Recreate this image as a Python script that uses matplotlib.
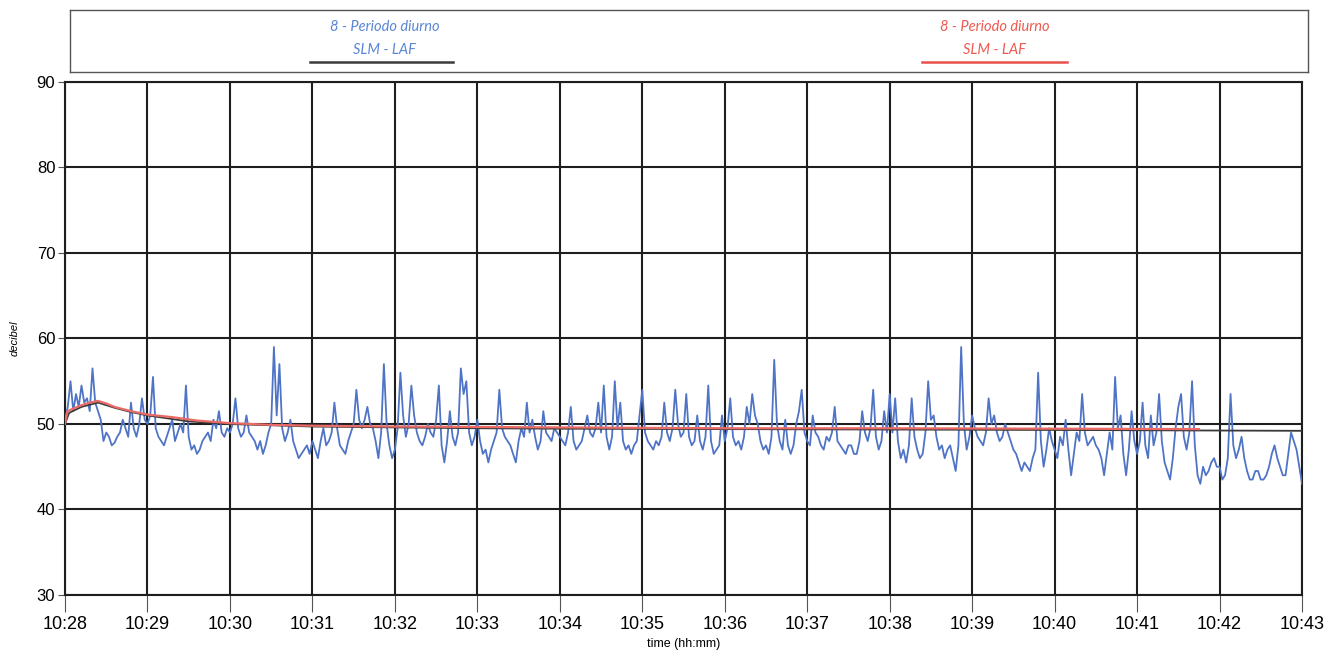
import numpy as np
import matplotlib.pyplot as plt

# blue trace (SLM - LAF), one value every 2 s, one row per minute from 10:28, last point is 10:43
laf = [
    50.5, 52.0, 55.0, 51.5, 53.5, 52.0, 54.5, 52.5, 53.0, 51.5, 56.5, 52.5, 51.5, 50.5, 48.0,
    49.0, 48.5, 47.5, 47.8, 48.5, 49.0, 50.5, 49.5, 48.5, 52.5, 49.5, 48.5, 50.0, 53.0, 50.5,
    50.0, 51.0, 55.5, 49.5, 48.5, 48.0, 47.5, 48.5, 49.5, 50.5, 48.0, 49.0, 50.0, 49.0, 54.5,
    48.5, 47.0, 47.5, 46.5, 47.0, 48.0, 48.5, 49.0, 48.0, 50.5, 49.5, 51.5, 49.0, 48.5, 49.5,
    49.0, 50.0, 53.0, 49.5, 48.5, 49.0, 51.0, 49.0, 48.5, 48.0, 47.0, 48.0, 46.5, 47.5, 49.0,
    50.0, 59.0, 51.0, 57.0, 49.5, 48.0, 49.0, 50.5, 48.0, 47.0, 46.0, 46.5, 47.0, 47.5, 46.5,
    48.0, 47.0, 46.0, 48.0, 49.5, 47.5, 48.0, 49.0, 52.5, 49.5, 47.5, 47.0, 46.5, 48.0, 49.0,
    50.0, 54.0, 50.5, 49.5, 50.5, 52.0, 50.0, 49.5, 48.0, 46.0, 49.0, 57.0, 50.0, 47.5, 46.0,
    47.0, 49.5, 56.0, 51.0, 48.5, 50.0, 54.5, 51.0, 49.0, 48.0, 47.5, 48.5, 50.0, 49.0, 48.5,
    50.5, 54.5, 47.5, 45.5, 48.0, 51.5, 48.5, 47.5, 49.0, 56.5, 53.5, 55.0, 49.0, 47.5, 48.5,
    50.5, 48.0, 46.5, 47.0, 45.5, 47.0, 48.0, 49.0, 54.0, 49.5, 48.5, 48.0, 47.5, 46.5, 45.5,
    48.0, 49.5, 48.5, 52.5, 49.0, 50.5, 48.5, 47.0, 48.0, 51.5, 49.0, 48.5, 48.0, 49.5, 49.0,
    48.5, 48.0, 47.5, 49.0, 52.0, 48.0, 47.0, 47.5, 48.0, 49.5, 51.0, 49.0, 48.5, 49.5, 52.5,
    49.0, 54.5, 48.5, 47.0, 48.5, 55.0, 49.5, 52.5, 48.0, 47.0, 47.5, 46.5, 47.5, 48.0, 51.0,
    54.0, 49.0, 48.0, 47.5, 47.0, 48.0, 47.5, 48.5, 52.5, 49.0, 48.0, 49.5, 54.0, 50.0, 48.5,
    49.0, 53.5, 48.5, 47.5, 48.0, 51.0, 48.0, 47.0, 48.5, 54.5, 48.0, 46.5, 47.0, 47.5, 51.0,
    48.0, 49.5, 53.0, 48.5, 47.5, 48.0, 47.0, 48.5, 52.0, 50.0, 53.5, 51.0, 50.0, 48.0, 47.0,
    47.5, 46.5, 48.5, 57.5, 50.0, 48.0, 47.0, 50.5, 47.5, 46.5, 47.5, 50.0, 51.5, 54.0, 49.0,
    48.0, 47.5, 51.0, 49.0, 48.5, 47.5, 47.0, 48.5, 48.0, 49.0, 52.0, 48.0, 47.5, 47.0, 46.5,
    47.5, 47.5, 46.5, 46.5, 48.0, 51.5, 49.0, 48.0, 49.5, 54.0, 48.5, 47.0, 48.0, 51.5, 49.0,
    53.5, 49.0, 53.0, 48.0, 46.0, 47.0, 45.5, 47.5, 53.0, 48.5, 47.0, 46.0, 46.5, 49.0, 55.0,
    50.5, 51.0, 48.5, 47.0, 47.5, 46.0, 47.0, 47.5, 46.0, 44.5, 47.5, 59.0, 50.0, 47.0, 48.5,
    51.0, 49.5, 48.5, 48.0, 47.5, 49.0, 53.0, 50.0, 51.0, 49.0, 48.0, 48.5, 50.0, 49.0, 48.0,
    47.0, 46.5, 45.5, 44.5, 45.5, 45.0, 44.5, 46.0, 47.0, 56.0, 48.0, 45.0, 47.0, 49.5, 48.0,
    47.0, 46.0, 48.5, 47.5, 50.5, 47.0, 44.0, 46.5, 49.0, 48.0, 53.5, 49.0, 47.5, 48.0, 48.5,
    47.5, 47.0, 46.0, 44.0, 46.5, 49.0, 47.0, 55.5, 49.5, 51.0, 46.5, 44.0, 47.0, 51.5, 48.0,
    46.5, 48.0, 52.5, 47.5, 46.0, 51.0, 47.5, 49.0, 53.5, 48.0, 45.5, 44.5, 43.5, 46.0, 49.5,
    52.0, 53.5, 48.5, 47.0, 49.0, 55.0, 47.5, 44.0, 43.0, 45.0, 44.0, 44.5, 45.5, 46.0, 45.0,
    45.0, 43.5, 44.0, 46.0, 53.5, 47.5, 46.0, 47.0, 48.5, 46.0, 44.5, 43.5, 43.5, 44.5, 44.5,
    43.5, 43.5, 44.0, 45.0, 46.5, 47.5, 46.0, 45.0, 44.0, 44.0, 46.5, 49.0, 48.0, 47.0, 45.0,
    43.0,
]
laf_t = np.arange(len(laf)) * 2 / 60.0   # minutes after 10:28

# running Leq curves (minutes after 10:28, dB)
leq_red_t = [0.0, 0.03, 0.1, 0.2, 0.3, 0.4, 0.5, 0.6, 0.8, 1.0, 1.3, 1.6, 2.0, 2.5, 3.0,
             4.0, 5.0, 6.0, 8.0, 10.0, 12.0, 13.75]
leq_red = [50.0, 51.5, 51.8, 52.2, 52.5, 52.7, 52.4, 52.0, 51.5, 51.1, 50.8, 50.4, 50.1, 49.9, 49.8,
           49.7, 49.65, 49.6, 49.5, 49.5, 49.45, 49.4]
leq_blk_t = [0.0, 0.05, 0.2, 0.4, 0.6, 0.8, 1.0, 1.5, 2.0, 3.0, 4.0, 5.0, 6.0, 8.0, 10.0,
             12.0, 15.0]
leq_blk = [50.0, 51.3, 52.0, 52.5, 51.9, 51.4, 51.0, 50.3, 50.0, 49.7, 49.6, 49.5, 49.45, 49.4, 49.35,
           49.3, 49.2]

tick_labels = ['10:%02d' % m for m in range(28, 44)]

fig = plt.figure(figsize=(13.32, 6.65), dpi=100)
ax = fig.add_axes([0.0488, 0.1053, 0.9287, 0.7714])

ax.plot(laf_t, laf, color='#4f74c6', lw=1.3, zorder=3)
ax.plot(leq_blk_t, leq_blk, color='#3a3a3a', lw=1.3, zorder=4)
ax.plot(leq_red_t, leq_red, color='#ea6a66', lw=1.6, zorder=5)

ax.set_xlim(0, 15)
ax.set_ylim(30, 90)
ax.set_xticks(range(16))
ax.set_xticklabels(tick_labels, fontsize=13, family='Liberation Sans')
ax.set_yticks(range(30, 91, 10))
ax.set_yticklabels([str(v) for v in range(30, 91, 10)], fontsize=12, family='Liberation Sans')
ax.tick_params(axis='x', length=12, width=0.8, color='#555555', pad=3)
ax.tick_params(axis='y', length=5, width=0.8, color='#555555', pad=2)
ax.grid(True, color='#1e1e1e', lw=1.5)
for s in ax.spines.values():
    s.set_color('#1e1e1e')
    s.set_linewidth(1.5)
ax.set_ylabel('decibel', fontsize=8, style='italic', family='Liberation Sans', labelpad=12)
ax.set_xlabel('time (hh:mm)', fontsize=9, family='Liberation Sans', labelpad=4)

# legend strip above the plot
lg = fig.add_axes([0.0525, 0.892, 0.9295, 0.093])
lg.set_xlim(0, 1)
lg.set_ylim(0, 1)
lg.set_xticks([])
lg.set_yticks([])
for s in lg.spines.values():
    s.set_color('#555555')
    s.set_linewidth(1.0)

blue_txt = '#5a86d6'
red_txt = '#ee5a50'
lg.text(0.254, 0.72, '8 - Periodo diurno', color=blue_txt, fontsize=10.5, style='italic',
        family='Lato', ha='center', va='center')
lg.text(0.254, 0.36, 'SLM - LAF', color=blue_txt, fontsize=10.5, style='italic',
        family='Lato', ha='center', va='center')
lg.plot([0.194, 0.309], [0.16, 0.16], color='#3a3a3a', lw=1.8)
lg.text(0.747, 0.72, '8 - Periodo diurno', color=red_txt, fontsize=10.5, style='italic',
        family='Lato', ha='center', va='center')
lg.text(0.747, 0.36, 'SLM - LAF', color=red_txt, fontsize=10.5, style='italic',
        family='Lato', ha='center', va='center')
lg.plot([0.688, 0.805], [0.16, 0.16], color='#e8504a', lw=1.8)

fig.savefig('out.png', dpi=100)
